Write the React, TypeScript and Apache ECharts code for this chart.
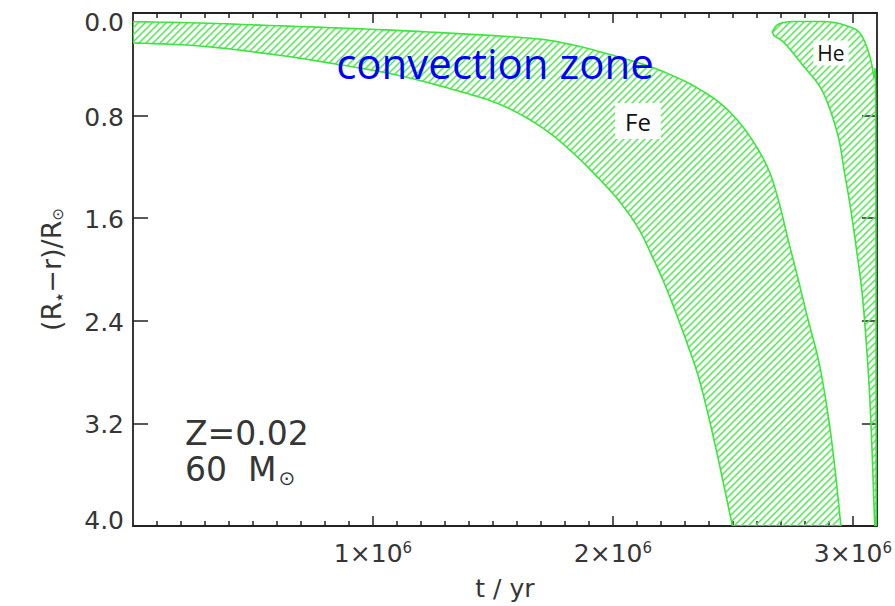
import React, { useEffect, useRef } from 'react';
import * as echarts from 'echarts';

// Time axis (years) and depth below the surface (R_sun, increasing downward)
const T_MAX = 3.1e6;
const T_MAJOR = [1e6, 2e6, 3e6];
const T_MINOR = [
  0.1e6, 0.2e6, 0.3e6, 0.4e6, 0.5e6, 0.6e6, 0.7e6, 0.8e6, 0.9e6,
  1.1e6, 1.2e6, 1.3e6, 1.4e6, 1.5e6, 1.6e6, 1.7e6, 1.8e6, 1.9e6,
  2.1e6, 2.2e6, 2.3e6, 2.4e6, 2.5e6, 2.6e6, 2.7e6, 2.8e6, 2.9e6,
];
const DEPTH_MAX = 4.0;
const DEPTH_STEP = 0.8;

// Fe opacity-peak convection zone: outer (upper) edge
const FE_TOP_T = [0, 0.278e6, 0.568e6, 0.888e6, 1.232e6, 1.647e6, 1.813e6, 1.979e6, 2.145e6, 2.27e6, 2.365e6, 2.465e6, 2.56e6, 2.643e6, 2.689e6, 2.73e6, 2.772e6, 2.813e6, 2.851e6, 2.876e6, 2.905e6, 2.929e6, 2.95e6];
const FE_TOP_D = [0.068, 0.078, 0.097, 0.119, 0.148, 0.195, 0.241, 0.319, 0.412, 0.506, 0.599, 0.732, 0.934, 1.198, 1.455, 1.767, 2.078, 2.389, 2.661, 2.895, 3.245, 3.619, 4.0];
// Fe zone: inner (lower) edge
const FE_BOT_T = [0, 0.278e6, 0.568e6, 0.817e6, 1.095e6, 1.369e6, 1.523e6, 1.647e6, 1.751e6, 1.855e6, 1.938e6, 2.021e6, 2.104e6, 2.166e6, 2.228e6, 2.311e6, 2.365e6, 2.427e6, 2.498e6];
const FE_BOT_D = [0.233, 0.257, 0.319, 0.389, 0.482, 0.615, 0.708, 0.825, 0.957, 1.128, 1.284, 1.455, 1.673, 1.907, 2.171, 2.584, 2.895, 3.377, 4.0];

// He ionisation convection zone: outer edge (tip, top, right side)
const HE_OUT_T = [2.664e6, 2.685e6, 2.726e6, 2.809e6, 2.905e6, 2.975e6, 3.029e6, 3.066e6, 3.087e6, 3.095e6, 3.097e6];
const HE_OUT_D = [0.148, 0.093, 0.07, 0.066, 0.07, 0.101, 0.156, 0.311, 0.498, 0.755, 4.0];
// He zone: inner edge, from the tip downward
const HE_IN_T = [2.672e6, 2.714e6, 2.797e6, 2.863e6, 2.905e6, 2.942e6, 2.963e6, 2.988e6, 3.012e6, 3.041e6, 3.066e6, 3.079e6, 3.087e6, 3.091e6];
const HE_IN_D = [0.179, 0.233, 0.42, 0.576, 0.755, 0.988, 1.222, 1.494, 1.805, 2.233, 2.856, 3.377, 3.79, 4.0];

const ZONE_NAMES = ['Fe', 'He'];
const ZONE_EDGES = [
  { outerT: FE_TOP_T, outerD: FE_TOP_D, innerT: FE_BOT_T, innerD: FE_BOT_D },
  { outerT: HE_OUT_T, outerD: HE_OUT_D, innerT: HE_IN_T, innerD: HE_IN_D },
];

const AXIS_FONT = 'DejaVu Sans';
const TEXT_COLOR = '#363636';
const LINE = { color: '#222', width: 1.8 };
const TICK = { color: '#222', width: 1.5 };
const GREEN_EDGE = '#3fe43f';
const GREEN_HATCH = '#4fec4f';

// Catmull-Rom curve through projected edge points, so the zone outlines are drawn smooth
function smoothEdge(p: number[][], steps = 8): number[][] {
  if (p.length < 3) return p;
  const out: number[][] = [];
  for (let i = 0; i < p.length - 1; i++) {
    const p0 = p[Math.max(i - 1, 0)];
    const p1 = p[i];
    const p2 = p[i + 1];
    const p3 = p[Math.min(i + 2, p.length - 1)];
    for (let k = 0; k < steps; k++) {
      const t = k / steps;
      const t2 = t * t;
      const t3 = t2 * t;
      out.push([0, 1].map((j) =>
        0.5 * (2 * p1[j] + (-p0[j] + p2[j]) * t +
          (2 * p0[j] - 5 * p1[j] + 4 * p2[j] - p3[j]) * t2 +
          (-p0[j] + 3 * p1[j] - 3 * p2[j] + p3[j]) * t3)));
    }
  }
  out.push(p[p.length - 1]);
  return out;
}

function makeHatch(): HTMLCanvasElement {
  const s = 7;
  const c = document.createElement('canvas');
  c.width = s;
  c.height = s;
  const ctx = c.getContext('2d')!;
  ctx.strokeStyle = GREEN_HATCH;
  ctx.lineWidth = 1.5;
  ctx.beginPath();
  ctx.moveTo(-1, s + 1);
  ctx.lineTo(s + 1, -1);
  ctx.moveTo(-1, 1);
  ctx.lineTo(1, -1);
  ctx.moveTo(s - 1, s + 1);
  ctx.lineTo(s + 1, s - 1);
  ctx.stroke();
  return c;
}

function buildOption(hatch: HTMLCanvasElement): any {
  const baseX = {
    type: 'value',
    min: 0,
    max: T_MAX,
    splitLine: { show: false },
  };
  const baseY = {
    type: 'value',
    inverse: true,
    min: 0,
    max: DEPTH_MAX,
    interval: DEPTH_STEP,
    splitLine: { show: false },
    axisLine: { show: true, onZero: false, lineStyle: LINE },
    axisTick: { show: true, inside: true, length: 15, lineStyle: TICK },
  };
  const yLabelRich = {
    t: { fontFamily: AXIS_FONT, fontSize: 25, color: TEXT_COLOR, padding: [18, 0, 0, 0] },
    e: { fontFamily: AXIS_FONT, fontSize: 25, color: TEXT_COLOR, padding: [0, 0, 12, 0] },
    n: { fontFamily: AXIS_FONT, fontSize: 25, color: TEXT_COLOR, padding: [3, 0, 0, 0] },
  };
  return {
    animation: false,
    backgroundColor: '#fff',
    grid: { left: 133, top: 13, width: 747, height: 514 },
    xAxis: [
      {
        ...baseX,
        position: 'bottom',
        axisLine: { show: true, onZero: false, lineStyle: LINE },
        axisTick: { show: true, inside: true, length: 10, lineStyle: TICK, customValues: T_MAJOR },
        axisLabel: {
          customValues: T_MAJOR,
          margin: 14,
          formatter: (v: number) => `{b|${Math.round(v / 1e6)}×10}{s|6}`,
          rich: {
            b: { fontFamily: AXIS_FONT, fontSize: 25, color: TEXT_COLOR },
            s: { fontFamily: AXIS_FONT, fontSize: 15, color: TEXT_COLOR, padding: [0, 0, 12, 0] },
          },
        },
        name: 't / yr',
        nameLocation: 'middle',
        nameGap: 50,
        nameTextStyle: { fontFamily: AXIS_FONT, fontSize: 25, color: TEXT_COLOR },
      },
      {
        ...baseX,
        position: 'bottom',
        axisLine: { show: false, onZero: false },
        axisTick: { show: true, inside: true, length: 5, lineStyle: TICK, customValues: T_MINOR },
        axisLabel: { show: false },
      },
      {
        ...baseX,
        position: 'top',
        axisLine: { show: true, onZero: false, lineStyle: LINE },
        axisTick: { show: true, inside: true, length: 10, lineStyle: TICK, customValues: T_MAJOR },
        axisLabel: { show: false },
      },
      {
        ...baseX,
        position: 'top',
        axisLine: { show: false, onZero: false },
        axisTick: { show: true, inside: true, length: 5, lineStyle: TICK, customValues: T_MINOR },
        axisLabel: { show: false },
      },
    ],
    yAxis: [
      {
        ...baseY,
        position: 'left',
        axisLabel: {
          margin: 9,
          formatter: (v: number) => {
            const s = v.toFixed(1);
            if (Math.abs(v) < 1e-9) return `{t|${s}}`;
            if (Math.abs(v - DEPTH_MAX) < 1e-9) return `{e|${s}}`;
            return `{n|${s}}`;
          },
          rich: yLabelRich,
        },
        name: '{a|(R}{s|★}{a|−r)/R}{o|⊙}',
        nameLocation: 'middle',
        nameGap: 68,
        nameTextStyle: {
          fontFamily: AXIS_FONT,
          fontSize: 27,
          color: TEXT_COLOR,
          rich: {
            a: { fontFamily: AXIS_FONT, fontSize: 27, color: TEXT_COLOR },
            s: { fontFamily: AXIS_FONT, fontSize: 10, color: TEXT_COLOR, padding: [16, 0, 0, 0] },
            o: { fontFamily: AXIS_FONT, fontSize: 15, color: TEXT_COLOR, padding: [12, 0, 0, 0] },
          },
        },
      },
      {
        ...baseY,
        position: 'right',
        axisLabel: { show: false },
      },
    ],
    series: [
      {
        type: 'custom',
        name: 'convection zones',
        xAxisIndex: 0,
        yAxisIndex: 0,
        clip: true,
        data: ZONE_NAMES.map((_, i) => i),
        renderItem: (params: any, api: any) => {
          const z = ZONE_EDGES[params.dataIndex];
          const outer = smoothEdge(z.outerT.map((t, i) => api.coord([t, z.outerD[i]])));
          const inner = smoothEdge(z.innerT.map((t, i) => api.coord([t, z.innerD[i]])));
          return {
            type: 'polygon',
            shape: { points: [...outer, ...inner.reverse()] },
            style: {
              fill: { image: hatch, repeat: 'repeat' },
              stroke: GREEN_EDGE,
              lineWidth: 1.6,
            },
          };
        },
      },
    ],
    graphic: [
      {
        type: 'text',
        x: 495,
        y: 62,
        z: 10,
        style: {
          text: 'convection zone',
          fill: '#0000ff',
          fontFamily: 'Open Sans',
          fontSize: 42,
          align: 'center',
          verticalAlign: 'middle',
        },
      },
      {
        type: 'text',
        x: 638,
        y: 121,
        z: 10,
        style: {
          text: 'Fe',
          fill: '#111',
          fontFamily: 'Open Sans',
          fontSize: 24,
          align: 'center',
          verticalAlign: 'middle',
          backgroundColor: '#fff',
          padding: [6, 10, 6, 10],
        },
      },
      {
        type: 'text',
        x: 831,
        y: 53,
        z: 10,
        style: {
          text: 'He',
          fill: '#111',
          fontFamily: 'Open Sans',
          fontSize: 21,
          align: 'center',
          verticalAlign: 'middle',
          backgroundColor: '#fff',
          padding: [2, 4, 2, 4],
        },
      },
      {
        type: 'text',
        x: 185,
        y: 433,
        z: 10,
        style: {
          text: 'Z=0.02',
          fill: TEXT_COLOR,
          fontFamily: AXIS_FONT,
          fontSize: 33,
          align: 'left',
          verticalAlign: 'middle',
        },
      },
      {
        type: 'text',
        x: 185,
        y: 469,
        z: 10,
        style: {
          text: '{m|60  M}{o|⊙}',
          align: 'left',
          verticalAlign: 'middle',
          rich: {
            m: { fontFamily: AXIS_FONT, fontSize: 33, fill: TEXT_COLOR, color: TEXT_COLOR },
            o: { fontFamily: AXIS_FONT, fontSize: 20, fill: TEXT_COLOR, color: TEXT_COLOR, padding: [18, 0, 0, 2] },
          },
        },
      },
    ],
  };
}

export default function App() {
  const ref = useRef<HTMLDivElement>(null);
  useEffect(() => {
    if (!ref.current) return;
    const chart = echarts.init(ref.current, null, { renderer: 'svg' });
    chart.setOption(buildOption(makeHatch()));
    return () => chart.dispose();
  }, []);
  return (
    <div
      ref={ref}
      style={{ position: 'fixed', left: 0, top: 0, width: 895, height: 606, background: '#fff' }}
    />
  );
}
